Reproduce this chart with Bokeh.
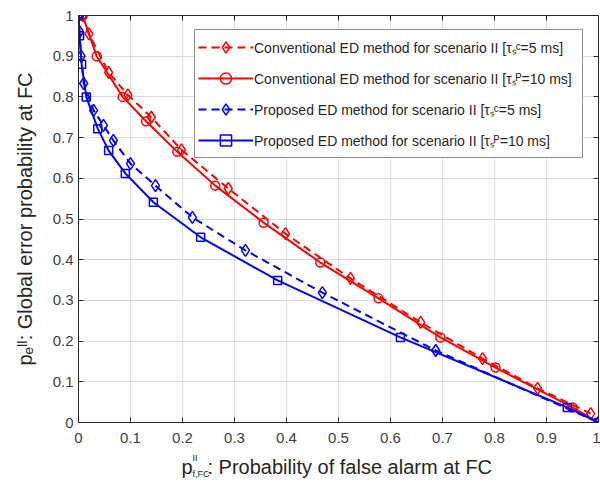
from bokeh.plotting import figure
from bokeh.layouts import column
from bokeh.models import Legend, LegendItem, LinearAxis, FixedTicker, Range1d
from bokeh.core.properties import value
from bokeh.embed import file_html
from bokeh.resources import INLINE

# ---- data ----
red_circ_x = [0.008, 0.035, 0.085, 0.13, 0.19, 0.263, 0.356, 0.465, 0.577, 0.696, 0.802, 0.95, 1.0]
red_circ_y = [1.0, 0.90, 0.80, 0.74, 0.665, 0.582, 0.491, 0.393, 0.305, 0.209, 0.135, 0.037, 0.0]

red_diam_x = [0.008, 0.02, 0.058, 0.095, 0.14, 0.198, 0.288, 0.398, 0.523, 0.658, 0.777, 0.883, 0.985]
red_diam_y = [1.0, 0.955, 0.86, 0.805, 0.75, 0.67, 0.575, 0.464, 0.354, 0.246, 0.157, 0.084, 0.022]

blue_diam_x = [0.0, 0.002, 0.005, 0.01, 0.029, 0.048, 0.067, 0.1, 0.148, 0.219, 0.321, 0.469, 0.687, 1.0]
blue_diam_y = [1.0, 0.96, 0.9, 0.833, 0.767, 0.73, 0.693, 0.636, 0.582, 0.504, 0.423, 0.319, 0.177, 0.0]

blue_sq_x = [0.0, 0.002, 0.006, 0.015, 0.037, 0.058, 0.09, 0.144, 0.235, 0.383, 0.619, 0.94, 1.0]
blue_sq_y = [1.0, 0.95, 0.88, 0.80, 0.722, 0.668, 0.612, 0.541, 0.455, 0.349, 0.209, 0.037, 0.0]

ticks = [0, 0.1, 0.2, 0.3, 0.4, 0.5, 0.6, 0.7, 0.8, 0.9, 1]
tick_labels = ["0", "0.1", "0.2", "0.3", "0.4", "0.5", "0.6", "0.7", "0.8", "0.9", "1"]

legend_labels = [
    "Conventional ED method for scenario II [\u03c4\u209b\u1d9c=5 ms]",
    "Conventional ED method for scenario II [\u03c4\u209b\u1d3e=10 ms]",
    "Proposed ED method for scenario II [\u03c4\u209b\u1d9c=5 ms]",
    "Proposed ED method for scenario II [\u03c4\u209b\u1d3e=10 ms]",
]
y_title = "p\u2091\u1d35\u1d35: Global error probability at FC"
x_title_main = ["p", ": Probability of false alarm at FC"]
x_title_sup = "II"
x_title_sub = "f,FC"

FONT = "Liberation Sans"
TXT = "#262626"
RED = "#ff0000"
BLUE = "#0000ff"

W, H = 600, 485
FL, FR = 78, 598  # frame left / right in page pixels
XH = 35           # height of the strip holding the x title
MH = H - XH       # main figure height

# ---------------- main plot ----------------
p = figure(width=W, height=MH, output_backend="svg", toolbar_location=None,
           x_range=Range1d(0, 1), y_range=Range1d(0, 1),
           min_border_left=FL, min_border_right=W - FR, min_border_top=15,
           min_border_bottom=MH - 422)
p.background_fill_color = "white"
p.border_fill_color = "white"
p.outline_line_color = None

overrides = {t: l for t, l in zip(ticks, tick_labels)}
for ax in (p.xaxis[0], p.yaxis[0]):
    ax.ticker = FixedTicker(ticks=ticks)
    ax.major_label_overrides = overrides
    ax.major_tick_in = 5
    ax.major_tick_out = 0
    ax.minor_tick_line_color = None
    ax.axis_line_color = TXT
    ax.major_tick_line_color = TXT
    ax.major_label_text_font = FONT
    ax.major_label_text_font_size = "15px"
    ax.major_label_text_color = "#404040"
p.xaxis[0].major_label_standoff = 10
p.yaxis[0].major_label_standoff = 5

yax = p.yaxis[0]
yax.axis_label = y_title
yax.axis_label_text_font = FONT
yax.axis_label_text_font_size = "20px"
yax.axis_label_text_font_style = "normal"
yax.axis_label_text_color = TXT
yax.axis_label_standoff = 14

blank = {t: "" for t in ticks}
for loc in ("right", "above"):
    a = LinearAxis(ticker=FixedTicker(ticks=ticks), major_label_overrides=blank,
                   major_label_text_font_size="1px",
                   major_label_standoff=0, major_tick_in=5, major_tick_out=0,
                   minor_tick_line_color=None, axis_line_color=TXT, major_tick_line_color=TXT)
    p.add_layout(a, loc)

p.grid.ticker = FixedTicker(ticks=ticks)
p.grid.grid_line_color = "#dcdcdc"
p.grid.grid_line_width = 1

r1l = p.line(red_diam_x, red_diam_y, line_color=RED, line_width=2, line_dash="8 5")
r1m = p.scatter(red_diam_x, red_diam_y, marker="diamond", size=12, line_color=RED,
                line_width=1.5, fill_alpha=0)
r2l = p.line(red_circ_x, red_circ_y, line_color=RED, line_width=2)
r2m = p.scatter(red_circ_x, red_circ_y, marker="circle", size=9, line_color=RED,
                line_width=1.5, fill_alpha=0)
b1l = p.line(blue_diam_x, blue_diam_y, line_color=BLUE, line_width=2, line_dash="8 5")
b1m = p.scatter(blue_diam_x, blue_diam_y, marker="diamond", size=12, line_color=BLUE,
                line_width=1.5, fill_alpha=0)
b2l = p.line(blue_sq_x, blue_sq_y, line_color=BLUE, line_width=2)
b2m = p.scatter(blue_sq_x, blue_sq_y, marker="square", size=8, line_color=BLUE,
                line_width=1.5, fill_alpha=0)

legend = Legend(items=[
    LegendItem(label=legend_labels[0], renderers=[r1l, r1m]),
    LegendItem(label=legend_labels[1], renderers=[r2l, r2m]),
    LegendItem(label=legend_labels[2], renderers=[b1l, b1m]),
    LegendItem(label=legend_labels[3], renderers=[b2l, b2m]),
], location=(116, 264))
legend.glyph_width = 55
legend.glyph_height = 28
legend.label_height = 28
legend.label_width = 325
legend.spacing = 3
legend.padding = 3
legend.margin = 0
legend.label_standoff = 1
legend.label_text_font = FONT
legend.label_text_font_size = "14px"
legend.label_text_color = TXT
legend.border_line_color = TXT
legend.border_line_width = 1
legend.background_fill_color = "white"
legend.background_fill_alpha = 1
p.add_layout(legend)

# ---------------- x title strip (x range = page pixels of the aligned frame) ----------------
xt = figure(width=W, height=XH, output_backend="svg", toolbar_location=None,
            x_range=Range1d(FL, FR), y_range=Range1d(0, XH),
            x_axis_type=None, y_axis_type=None,
            min_border_left=FL, min_border_right=W - FR, min_border_top=0, min_border_bottom=0)
xt.outline_line_color = None
xt.background_fill_color = "white"
xt.border_fill_color = "white"

def txt(f, xs, ys, texts, size):
    f.text(x=xs, y=ys, text=texts, text_font=value(FONT),
           text_font_size=value(size), text_color=TXT,
           text_align="left", text_baseline="alphabetic")

txt(xt, [181, 207], [H - 466, H - 466], x_title_main, "20px")
txt(xt, [192], [H - 457], [x_title_sup], "9px")
txt(xt, [192], [H - 473], [x_title_sub], "9px")

layout = column(p, xt, spacing=0)
open("out.html", "w").write(file_html(layout, INLINE))
